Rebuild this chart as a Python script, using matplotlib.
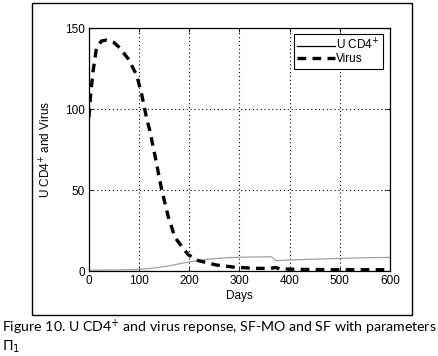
import matplotlib
matplotlib.use("Agg")
import matplotlib.pyplot as plt
from matplotlib.lines import Line2D
from matplotlib.patches import Rectangle

virus_t = [0, 3, 8, 15, 25, 35, 50, 62, 78, 95, 105, 115, 121, 131, 145, 158, 171,
           185, 198, 218, 254, 291, 330, 360, 372, 380, 420, 500, 600]
virus_v = [95, 108, 123, 138, 142, 142.5, 141, 137.5, 131, 121, 109, 94, 87, 72, 50,
           33.5, 21, 15, 10, 6.4, 3.7, 2.3, 1.7, 1.5, 2.2, 1.3, 1.0, 0.8, 0.8]

cd4_t = [0, 50, 100, 130, 160, 200, 240, 280, 320, 364, 372, 400, 450, 500, 550, 600]
cd4_v = [0.5, 0.6, 1.0, 1.8, 3.2, 5.7, 7.4, 8.3, 8.6, 8.8, 6.4, 6.8, 7.3, 7.8, 8.2, 8.4]

xticks = [0, 100, 200, 300, 400, 500, 600]
yticks = [0, 50, 100, 150]

W, H = 439, 356
fig = plt.figure(figsize=(W / 100, H / 100), dpi=100)
fig.patch.set_facecolor("white")

# outer frame
fig.patches.append(Rectangle((32 / W, 1 - 315 / H), (412 - 32) / W, (315 - 3) / H,
                             transform=fig.transFigure, fill=False,
                             edgecolor="black", linewidth=1.0))

ax = fig.add_axes([89 / W, 1 - 271 / H, (390 - 89) / W, (271 - 28) / H])
ax.plot(cd4_t, cd4_v, color="#a0a0a0", linewidth=0.9)
ax.plot(virus_t, virus_v, color="black", linewidth=2.4, dashes=(2.6, 1.9))

ax.set_xlim(0, 600)
ax.set_ylim(0, 150)
ax.set_xticks(xticks)
ax.set_yticks(yticks)
font = "Liberation Sans"
ax.set_xticklabels([str(v) for v in xticks], fontsize=8.5, family=font)
ax.set_yticklabels([str(v) for v in yticks], fontsize=8.5, family=font)
ax.tick_params(direction="in", length=3, width=0.6, top=True, right=True, pad=3)
ax.grid(True, color="black", linestyle=(0, (1, 2.5)), linewidth=0.8)
for s in ax.spines.values():
    s.set_linewidth(0.9)
ax.set_xlabel("Days", fontsize=8.5, family=font, labelpad=2)
ax.set_ylabel("U CD4$^{+}$ and Virus", fontsize=8.5, family=font, labelpad=8)

handles = [Line2D([], [], color="black", linewidth=0.9),
           Line2D([], [], color="black", linewidth=2.4, dashes=(2.6, 1.9))]
leg = ax.legend(handles, ["U CD4$^{+}$", "Virus"], loc="upper right",
                bbox_to_anchor=(0.985, 0.985), fancybox=False, framealpha=1,
                edgecolor="black", prop={"family": font, "size": 8.5},
                handlelength=3.2, handletextpad=0.1, borderpad=0.3,
                labelspacing=0.05, borderaxespad=0.2)
leg.get_frame().set_linewidth(0.8)

fig.text(2 / W, 1 - 327 / H,
         "Figure 10. U CD4$^{+}$ and virus reponse, SF-MO and SF with parameters",
         fontsize=10.2, family="Lato", va="center", ha="left")
fig.text(2 / W, 1 - 347 / H, "$\\Pi_1$", fontsize=10.2, va="center", ha="left")

fig.savefig("out.png", dpi=100, facecolor="white")
